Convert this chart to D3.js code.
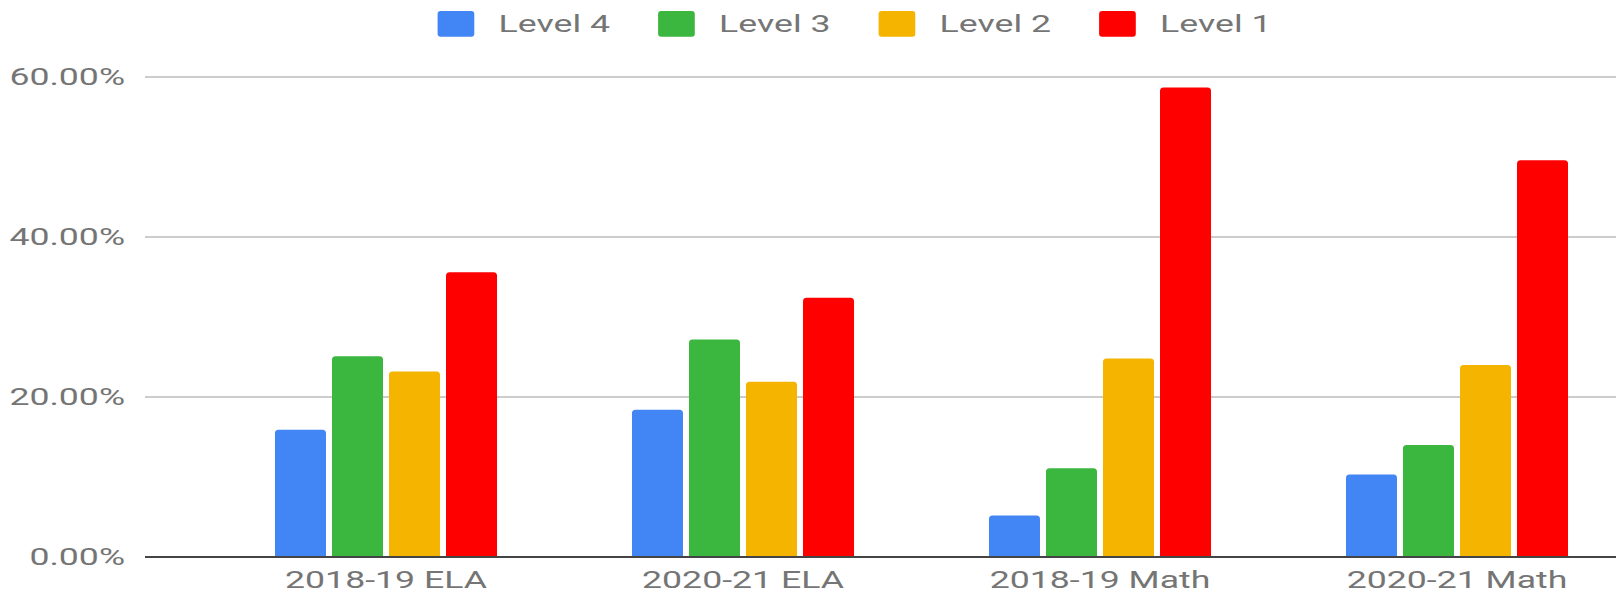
<!DOCTYPE html>
<html>
<head>
<meta charset="utf-8">
<script src="https://cdn.jsdelivr.net/npm/d3@7"></script>
<style>
  html, body { margin: 0; padding: 0; background: #fff; }
  svg { display: block; font-family: Roboto, "Noto Sans", sans-serif; }
</style>
</head>
<body>
<svg id="chart" width="1623" height="594"></svg>
<script>
// Categories and series
const categories = ["2018-19 ELA", "2020-21 ELA", "2018-19 Math", "2020-21 Math"];
const seriesNames = ["Level 4", "Level 3", "Level 2", "Level 1"];
const seriesColors = ["#4285f4", "#3bb63f", "#f4b400", "#ff0000"];

// Percent of students per level, one array per series (ordered as categories)
const level4 = [15.9, 18.4, 5.2, 10.3];
const level3 = [25.1, 27.2, 11.1, 14.0];
const level2 = [23.2, 21.9, 24.8, 24.0];
const level1 = [35.6, 32.4, 58.7, 49.6];

const yTicks = [0, 20, 40, 60];

const seriesValues = [level4, level3, level2, level1];

const svg = d3.select("#chart");
const textStretch = 1.55;
const fontSize = 23;
const labelColor = "#757575";

// Scales
const y = d3.scaleLinear().domain([0, 60]).range([557, 77]);
const x0 = d3.scaleBand().domain(categories)
  .range([207.5, 1635.5]).paddingInner(0.378).paddingOuter(0.189);
const x1 = d3.scaleBand().domain(seriesNames)
  .range([0, x0.bandwidth()]).paddingInner(0.105);

const gridLeft = 145, gridRight = 1616;

// Gridlines
svg.append("g").selectAll("line")
  .data(yTicks.filter(d => d !== 0))
  .join("line")
  .attr("x1", gridLeft).attr("x2", gridRight)
  .attr("y1", d => y(d)).attr("y2", d => y(d))
  .attr("stroke", "#cccccc").attr("stroke-width", 2);

// Y tick labels (horizontally stretched text)
const fmt = d => d.toFixed(2) + "%";
svg.append("g").selectAll("g")
  .data(yTicks)
  .join("g")
  .attr("transform", d => `translate(125,${y(d) + 8.3}) scale(${textStretch},1)`)
  .append("text")
  .attr("text-anchor", "end")
  .attr("font-size", fontSize)
  .attr("fill", labelColor)
  .text(fmt);

// Bars with rounded top corners
function barPath(x, yTop, w, yBase, r) {
  const h = yBase - yTop;
  r = Math.min(r, h / 2, w / 2);
  return `M${x},${yBase}V${yTop + r}Q${x},${yTop} ${x + r},${yTop}` +
         `H${x + w - r}Q${x + w},${yTop} ${x + w},${yTop + r}V${yBase}Z`;
}

const groups = svg.append("g").selectAll("g")
  .data(categories)
  .join("g")
  .attr("transform", d => `translate(${x0(d)},0)`);

groups.selectAll("path")
  .data((c, ci) => seriesNames.map((s, si) => ({ s, si, v: seriesValues[si][ci] })))
  .join("path")
  .attr("d", d => barPath(x1(d.s), y(d.v), x1.bandwidth(), y(0), 3.5))
  .attr("fill", d => seriesColors[d.si]);

// Baseline
svg.append("line")
  .attr("x1", gridLeft).attr("x2", gridRight)
  .attr("y1", y(0)).attr("y2", y(0))
  .attr("stroke", "#444444").attr("stroke-width", 2.2);

// X axis labels
svg.append("g").selectAll("g")
  .data(categories)
  .join("g")
  .attr("transform", d => `translate(${x0(d) + x0.bandwidth() / 2},588) scale(${textStretch},1)`)
  .append("text")
  .attr("text-anchor", "middle")
  .attr("font-size", fontSize)
  .attr("fill", labelColor)
  .text(d => d);

// Legend
const legendX0 = 437.6, legendStep = 220.5;
const legend = svg.append("g").selectAll("g")
  .data(seriesNames)
  .join("g")
  .attr("transform", (d, i) => `translate(${legendX0 + i * legendStep},0)`);

legend.append("rect")
  .attr("x", 0).attr("y", 11)
  .attr("width", 36.7).attr("height", 25.7)
  .attr("rx", 3).attr("ry", 3)
  .attr("fill", (d, i) => seriesColors[i]);

legend.append("g")
  .attr("transform", `translate(61,31.7) scale(${textStretch},1)`)
  .append("text")
  .attr("font-size", fontSize)
  .attr("fill", labelColor)
  .text(d => d);
</script>
</body>
</html>
